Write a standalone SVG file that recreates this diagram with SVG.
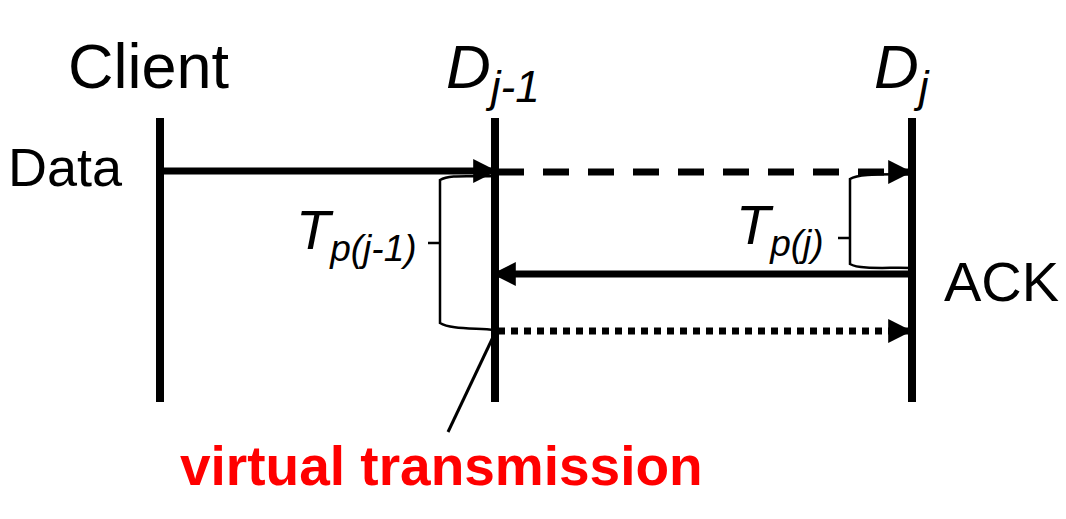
<svg xmlns="http://www.w3.org/2000/svg" width="1066" height="519" viewBox="0 0 1066 519">
<style>
text{font-family:"Liberation Sans",Arial,sans-serif;fill:#000}
.life{stroke:#000;stroke-width:8}
.msg{stroke:#000;stroke-width:7;fill:none}
.br{stroke:#000;stroke-width:2.5;fill:none}
</style>
<defs>
<marker id="ah" viewBox="0 0 10 10" refX="10" refY="5" markerWidth="3.6" markerHeight="3.4" markerUnits="strokeWidth" orient="auto"><path d="M0,0L10,5L0,10z" fill="#000"/></marker>
</defs>
<rect width="1066" height="519" fill="#fff"/>
<g id="client"><text x="68" y="88" font-size="63">Client</text><line class="life" x1="160" y1="118" x2="160" y2="402"/></g>
<g id="dj1"><text x="446" y="88" font-size="62" font-style="italic">D<tspan font-size="44" dy="14">j-1</tspan></text><line class="life" x1="495" y1="118" x2="495" y2="402"/></g>
<g id="dj"><text x="874" y="88" font-size="62" font-style="italic">D<tspan font-size="44" dy="14">j</tspan></text><line class="life" x1="912" y1="118" x2="912" y2="402"/></g>
<g id="labels">
<text x="8" y="186" font-size="54">Data</text>
<text x="944" y="301" font-size="56">ACK</text>
<text x="296" y="249" font-size="56" font-style="italic">T<tspan font-size="37" dy="12">p(j-1)</tspan></text>
<text x="736" y="244" font-size="56" font-style="italic">T<tspan font-size="37" dy="12">p(j)</tspan></text>
<text x="180" y="485" font-size="55" font-weight="bold" style="fill:#f00">virtual transmission</text>
</g>
<g id="connectors">
<line class="msg" x1="160" y1="171" x2="497" y2="171" marker-end="url(#ah)"/>
<line class="msg" x1="498" y1="172" x2="912" y2="172" stroke-dasharray="26,19" marker-end="url(#ah)"/>
<line class="msg" x1="909" y1="274" x2="492" y2="274" marker-end="url(#ah)"/>
<line class="msg" x1="498" y1="331" x2="912" y2="331" stroke-dasharray="7,6" marker-end="url(#ah)"/>
<path class="br" d="M495,176 C470,177 450,174 440,180 L440,323 C450,329 470,328 495,330 M428,243 L440,243"/>
<path class="br" d="M912,174 C890,175 860,173 850,179 L850,264 C860,270 890,267 912,268 M838,238 L850,238"/>
<line stroke="#000" stroke-width="3" x1="448" y1="432" x2="494" y2="335"/>
</g>
</svg>
